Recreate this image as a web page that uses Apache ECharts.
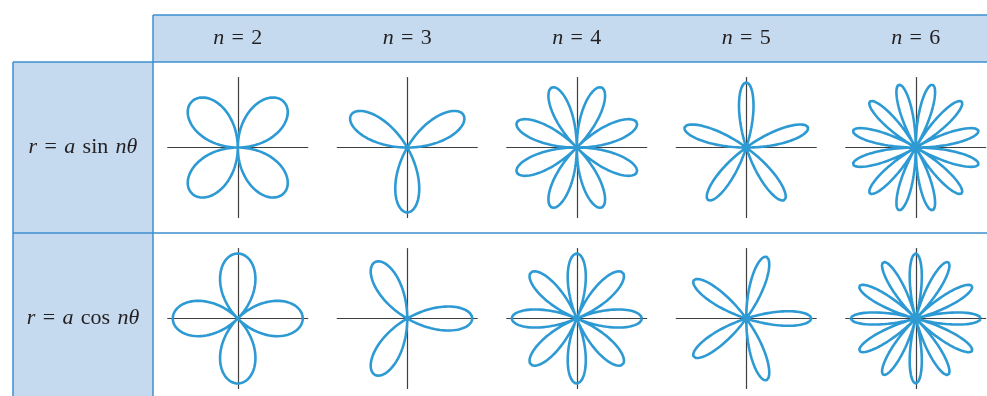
<!DOCTYPE html>
<html>
<head>
<meta charset="utf-8">
<script src="https://cdn.jsdelivr.net/npm/echarts@6/dist/echarts.min.js"></script>
<style>
  html, body { margin: 0; padding: 0; background: #ffffff; }
  #chart { width: 987px; height: 396px; }
</style>
</head>
<body>
<div id="chart"></div>
<script>
// Rose curves r = a sin(nθ) and r = a cos(nθ)
const nValues = [2, 3, 4, 5, 6];
const trigFunctions = ['sin', 'cos'];
const headerLabels = ['{i|n}\u2004=\u20042', '{i|n}\u2004=\u20043', '{i|n}\u2004=\u20044', '{i|n}\u2004=\u20045', '{i|n}\u2004=\u20046'];
const rowLabels = ['{i|r}\u2004=\u2004{i|a}\u2004sin\u2004{i|nθ}', '{i|r}\u2004=\u2004{i|a}\u2004cos\u2004{i|nθ}'];
const amplitude = 65;   // petal length a, in axis units
const axisExtent = 70;  // axes run from -70 to 70

// table layout
const tableLeft = 153, colWidth = 169.5;
const headerTop = 15, headerBottom = 62, rowHeight = 171;
const labelLeft = 13;
const W = 987, H = 396;

const fill = '#c5daef';
const border = '#3d8fd0';
const curveColor = '#2e9ad3';
const axisColor = '#3f3f3f';
const textColor = '#231f20';

function roseCurve(fn, n, a) {
  const pts = [];
  const steps = 1440;
  for (let i = 0; i <= steps; i++) {
    const t = (2 * Math.PI * i) / steps;
    const r = a * (fn === 'sin' ? Math.sin(n * t) : Math.cos(n * t));
    pts.push([r * Math.cos(t), r * Math.sin(t)]);
  }
  return pts;
}

const grids = [], xAxes = [], yAxes = [], series = [];
trigFunctions.forEach((fn, ri) => {
  const cy = headerBottom + rowHeight * ri + rowHeight / 2;
  nValues.forEach((n, ci) => {
    const cx = tableLeft + colWidth * ci + colWidth / 2;
    const gi = grids.length;
    grids.push({ left: cx - axisExtent, top: cy - axisExtent, width: axisExtent * 2, height: axisExtent * 2, containLabel: false });
    const axisCommon = {
      type: 'value', gridIndex: gi, min: -axisExtent, max: axisExtent,
      axisLine: { show: true, onZero: true, lineStyle: { color: axisColor, width: 1.2 } },
      axisTick: { show: false }, axisLabel: { show: false }, splitLine: { show: false }
    };
    xAxes.push(Object.assign({}, axisCommon));
    yAxes.push(Object.assign({}, axisCommon));
    series.push({
      type: 'line', xAxisIndex: gi, yAxisIndex: gi,
      data: roseCurve(fn, n, amplitude),
      showSymbol: false, symbol: 'none', smooth: false, clip: false, silent: true,
      lineStyle: { color: curveColor, width: 2.6 }, z: 5
    });
  });
});

const serif = '"Liberation Serif", "DejaVu Serif", serif';
const fontSize = 22;
const richStyles = {
  i: { fontFamily: serif, fontStyle: 'italic', fontSize: fontSize, fill: textColor }
};

const graphics = [];
// header band and label column
graphics.push({ type: 'rect', shape: { x: tableLeft, y: headerTop, width: W - tableLeft, height: headerBottom - headerTop }, style: { fill: fill }, z: 0 });
graphics.push({ type: 'rect', shape: { x: labelLeft, y: headerBottom, width: tableLeft - labelLeft, height: H - headerBottom }, style: { fill: fill }, z: 0 });
// borders
const lines = [
  [tableLeft, headerTop, W, headerTop],
  [labelLeft, headerBottom, W, headerBottom],
  [labelLeft, headerBottom + rowHeight, W, headerBottom + rowHeight],
  [tableLeft, headerTop, tableLeft, H],
  [labelLeft, headerBottom, labelLeft, H]
];
lines.forEach(l => graphics.push({
  type: 'line', shape: { x1: l[0], y1: l[1], x2: l[2], y2: l[3] },
  style: { stroke: border, lineWidth: 1.5 }, z: 1
}));
// header texts
headerLabels.forEach((t, ci) => {
  graphics.push({
    type: 'text', x: tableLeft + colWidth * ci + colWidth / 2, y: (headerTop + headerBottom) / 2,
    style: { text: t, rich: richStyles, font: fontSize + 'px ' + serif, fill: textColor, align: 'center', verticalAlign: 'middle' }, z: 2
  });
});
// row label texts
rowLabels.forEach((t, ri) => {
  graphics.push({
    type: 'text', x: (labelLeft + tableLeft) / 2, y: headerBottom + rowHeight * ri + rowHeight / 2,
    style: { text: t, rich: richStyles, font: fontSize + 'px ' + serif, fill: textColor, align: 'center', verticalAlign: 'middle' }, z: 2
  });
});

const chart = echarts.init(document.getElementById('chart'), null, { renderer: 'canvas' });
chart.setOption({
  animation: false,
  backgroundColor: '#ffffff',
  grid: grids,
  xAxis: xAxes,
  yAxis: yAxes,
  series: series,
  graphic: { elements: graphics }
});
</script>
</body>
</html>
